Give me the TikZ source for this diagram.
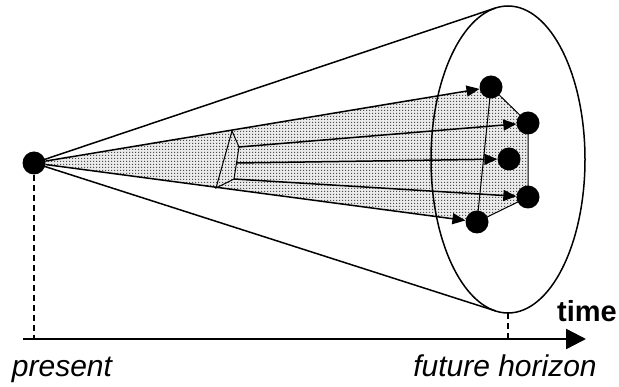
\documentclass[tikz,border=0pt]{standalone}
\usepackage{fontspec}
\setmainfont{Liberation Sans}
\usetikzlibrary{arrows.meta,patterns}
\pgfdeclarepatternformonly{stipple}{\pgfqpoint{0pt}{0pt}}{\pgfqpoint{3pt}{3pt}}{\pgfqpoint{3pt}{3pt}}{\pgfpathrectangle{\pgfqpoint{0pt}{0pt}}{\pgfqpoint{1.4pt}{1.4pt}}\pgfusepath{fill}}
\begin{document}
\begin{tikzpicture}[x=1pt,y=-1pt,
  dot/.style={circle,fill=black,inner sep=0pt,minimum size=23pt},
  cone/.style={line width=1.5pt},
  thin line/.style={line width=1pt},
  arr/.style={line width=1.5pt,-{Triangle[length=13pt,width=11pt]}},
  guide/.style={line width=1.4pt,dash pattern=on 6pt off 4pt},
  lab/.style={font=\fontsize{30}{34}\selectfont\itshape,anchor=base}]
\useasboundingbox (0,0) rectangle (619,387);
% coordinates
\coordinate (pc) at (34,163);
\coordinate (d1c) at (491,87);
\coordinate (d2c) at (528,123);
\coordinate (d3c) at (509,159);
\coordinate (d4c) at (528,197);
\coordinate (d5c) at (477,222);
% shaded region
\fill[black!8] (pc) -- (d1c) -- (d2c) -- (d4c) -- (d5c) -- cycle;
\fill[pattern=stipple,pattern color=black!70] (pc) -- (d1c) -- (d2c) -- (d4c) -- (d5c) -- cycle;
\draw[thin line] (d1c) -- (d2c) -- (d4c) -- (d5c);
\draw[thin line] (d1c) -- (d5c);
% ellipse (future horizon)
\draw[cone] (508,159.5) ellipse[x radius=77, y radius=153.5];
\coordinate (tt) at (495.2,8.1);
\coordinate (tb) at (495.8,311);
\draw[cone] (pc) -- (tt);
\draw[cone] (pc) -- (tb);
% nodes
\node[dot] (p) at (pc) {};
\node[dot] (d1) at (d1c) {};
\node[dot] (d2) at (d2c) {};
\node[dot] (d3) at (d3c) {};
\node[dot] (d4) at (d4c) {};
\node[dot] (d5) at (d5c) {};
% quadrilateral
\coordinate (q1) at (232,131);
\coordinate (q2) at (239,147);
\coordinate (qm) at (237,163);
\coordinate (q3) at (234,179);
\coordinate (q4) at (216,188);
\draw[thin line] (q1) -- (q2) -- (q3) -- (q4) -- cycle;
% arrows
\draw[arr] (p) -- (d1);
\draw[arr] (p) -- (d5);
\draw[arr] (q2) -- (d2);
\draw[arr] (qm) -- (d3);
\draw[arr] (q3) -- (d4);
% time axis
\coordinate (a0) at (23,339);
\coordinate (a1) at (586,339);
\draw[line width=2.4pt,-{Triangle[length=20pt,width=20pt]}] (a0) -- (a1);
\coordinate (pa) at (34,339);
\coordinate (hb) at (508,313);
\coordinate (ha) at (508,339);
\draw[guide] (p) -- (pa);
\draw[guide] (hb) -- (ha);
% labels
\node[lab] (present) at (62,377) {present};
\node[lab] (horizon) at (505,377) {future horizon};
\node[font=\fontsize{29}{34}\selectfont\bfseries,anchor=base] (time) at (587,322) {time};
\end{tikzpicture}
\end{document}
